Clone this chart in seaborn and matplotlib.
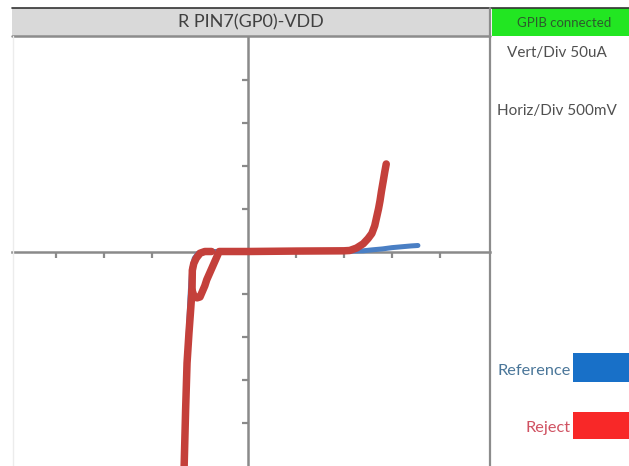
import matplotlib
matplotlib.use('Agg')
import matplotlib.pyplot as plt
from matplotlib.patches import Rectangle
from matplotlib.lines import Line2D
import seaborn as sns

sns.set_theme(style="white")
plt.rcParams['font.family'] = ['Lato', 'DejaVu Sans']

# ---- data (volts, microamps) ----
# reference sweep (blue)
ref_v = [-0.665, -0.64, -0.62, -0.605, -0.595, -0.585, -0.56, -0.52, -0.45, -0.3, 0.0, 0.5, 1.0, 1.2,
         1.3, 1.4, 1.5, 1.6, 1.7, 1.77]
ref_i = [-250, -160, -90, -55, -35, -20, -8, -2, 0, 0, 0, 0, 0.3, 0.8,
         2, 3, 4.5, 5.5, 6.5, 7]

# reject sweep (red), main path
rej_v = [-0.665, -0.65, -0.635, -0.615, -0.6, -0.583, -0.56, -0.53, -0.5, -0.45, -0.43, -0.3, 0.0,
         0.5, 1.0, 1.06, 1.13, 1.2, 1.25, 1.29, 1.32, 1.34, 1.36, 1.375, 1.39, 1.41, 1.425, 1.44]
rej_i = [-250, -185, -130, -95, -72, -45, -53, -54, -53, -40, -33, 0, 0,
         0.5, 0.8, 1.2, 4, 9, 15, 21, 30, 40, 50, 59, 70, 83, 93, 102]
# reject sweep (red), second branch of the loop near -0.55 V
rej2_v = [-0.583, -0.58, -0.565, -0.54, -0.5, -0.45, -0.38]
rej2_i = [-45, -22, -14, -8, -2, 0, 0]

# ---- layout helpers (pixel -> figure coordinates) ----
W, H = 629, 466
def fx(px):
    return px / W
def fy(py):
    return 1 - py / H

fig = plt.figure(figsize=(W / 100, H / 100), dpi=100)
fig.patch.set_facecolor('white')

ax = fig.add_axes([fx(12), 0, fx(490) - fx(12), fy(37)])
ax.set_facecolor('white')

sns.lineplot(x=ref_v, y=ref_i, ax=ax, sort=False, estimator=None,
             color='#4a7fc4', linewidth=3.6, solid_capstyle='round')
sns.lineplot(x=rej_v, y=rej_i, ax=ax, sort=False, estimator=None,
             color='#c4403b', linewidth=5.4, solid_capstyle='round', solid_joinstyle='round')
sns.lineplot(x=rej2_v, y=rej2_i, ax=ax, sort=False, estimator=None,
             color='#c4403b', linewidth=5.4, solid_capstyle='round', solid_joinstyle='round')

# 500 mV/div horizontally, 50 uA/div vertically; origin sits a bit left of centre
ax.set_xlim(-236 / 96, 242 / 96)
ax.set_ylim(-250, 250)

# crosshair axes through the origin
for s in ['top', 'right']:
    ax.spines[s].set_visible(False)
for s in ['left', 'bottom']:
    ax.spines[s].set_position('zero')
    ax.spines[s].set_color('#8a8a8a')
    ax.spines[s].set_linewidth(1.8)
    ax.spines[s].set_zorder(1)

xt = [-2, -1.5, -1, -0.5, 0.5, 1, 1.5, 2]
yt = [-200, -150, -100, -50, 50, 100, 150, 200]
ax.set_xticks(xt)
ax.set_yticks(yt)
ax.set_xticklabels([])
ax.set_yticklabels([])
ax.tick_params(axis='both', direction='out', length=4, width=1.6, color='#8a8a8a',
               bottom=True, left=True)
ax.set_xlabel('')
ax.set_ylabel('')

# ---- header bar ----
fig.add_artist(Rectangle((fx(12), fy(36)), fx(490) - fx(12), fy(8) - fy(36),
                         transform=fig.transFigure, facecolor='#d9d9d9', edgecolor='none'))
fig.add_artist(Line2D([fx(12), fx(629)], [fy(7.5), fy(7.5)], transform=fig.transFigure,
                      color='#333333', linewidth=1.2))
fig.add_artist(Line2D([fx(12), fx(490)], [fy(36), fy(36)], transform=fig.transFigure,
                      color='#8c8c8c', linewidth=1.8))
fig.text(fx(251), fy(22), 'R PIN7(GP0)-VDD', ha='center', va='center',
         fontsize=13, color='#404040')

# green status box
fig.add_artist(Rectangle((fx(492), fy(36)), fx(629) - fx(492), fy(8) - fy(36),
                         transform=fig.transFigure, facecolor='#22e622', edgecolor='none'))
fig.text(fx(564), fy(23), 'GPIB connected', ha='center', va='center',
         fontsize=9.5, color='#2d5a2d')

# right panel border
fig.add_artist(Line2D([fx(490), fx(490)], [fy(8), 0], transform=fig.transFigure,
                      color='#8c8c8c', linewidth=1.6))
fig.add_artist(Line2D([fx(12.5), fx(12.5)], [fy(36), 0], transform=fig.transFigure,
                      color='#ececec', linewidth=1.0))

fig.text(fx(507), fy(53), 'Vert/Div 50uA', ha='left', va='center',
         fontsize=11, color='#505050')
fig.text(fx(497), fy(111), 'Horiz/Div 500mV', ha='left', va='center',
         fontsize=11, color='#505050')

# legend
fig.text(fx(571), fy(371), 'Reference', ha='right', va='center',
         fontsize=11.8, color='#4a7699')
fig.add_artist(Rectangle((fx(573), fy(382)), fx(629) - fx(573), fy(353) - fy(382),
                         transform=fig.transFigure, facecolor='#1870c8', edgecolor='none'))
fig.text(fx(571), fy(428), 'Reject', ha='right', va='center',
         fontsize=11.8, color='#d05262')
fig.add_artist(Rectangle((fx(573), fy(439)), fx(629) - fx(573), fy(412) - fy(439),
                         transform=fig.transFigure, facecolor='#f82828', edgecolor='none'))

fig.savefig('out.png', dpi=100)
